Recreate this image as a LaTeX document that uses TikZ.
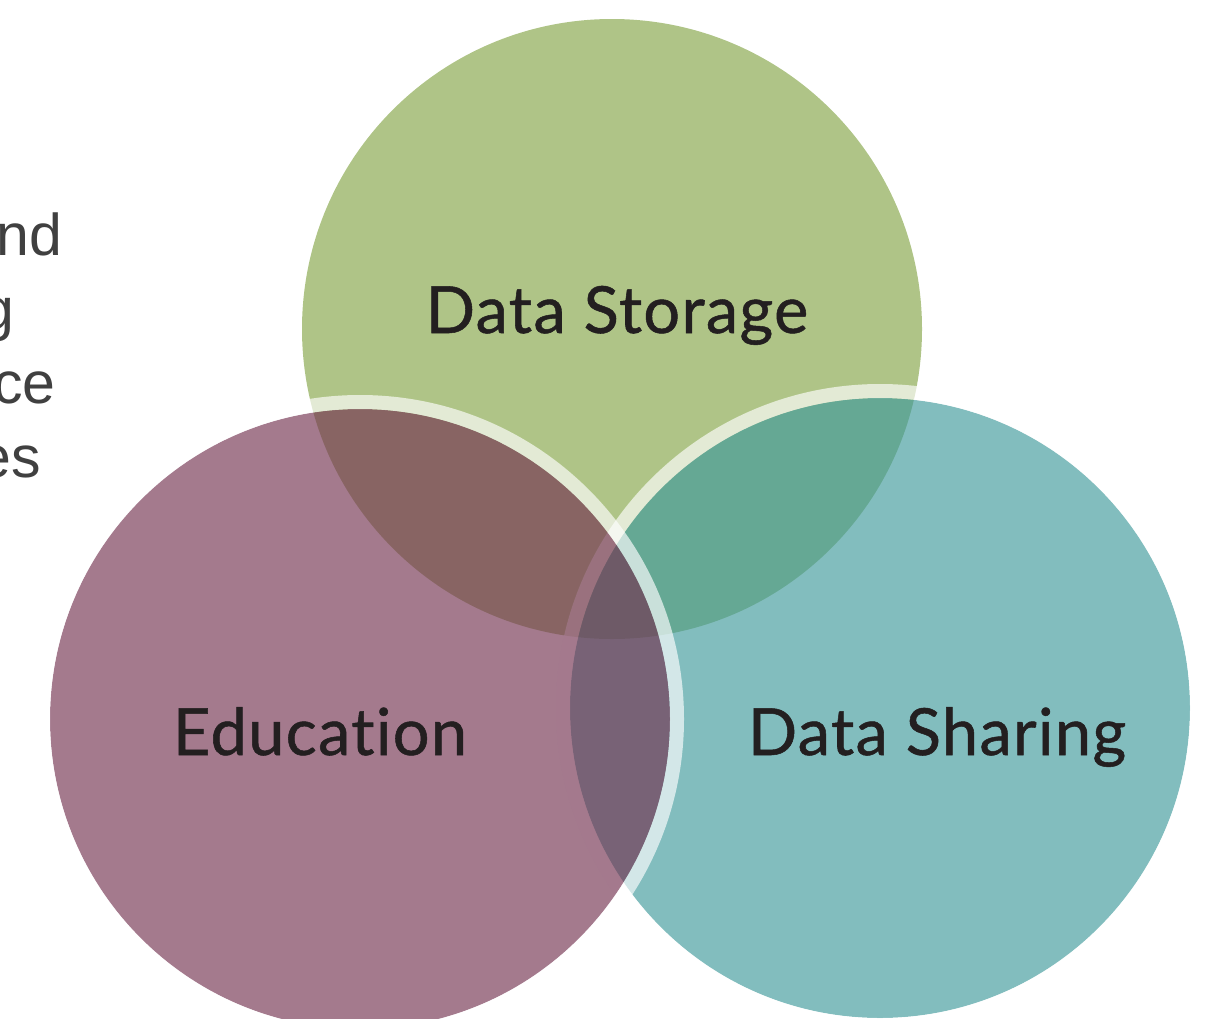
\documentclass[tikz,border=0pt]{standalone}
\usepackage{fontspec}
\setmainfont{Liberation Sans}
\newfontfamily\labelfont[Ligatures=NoCommon, LetterSpace=2, FakeBold=0.8]{Lato}
\definecolor{storagegreen}{RGB}{132,165,71}
\definecolor{educationpurple}{RGB}{115,50,80}
\definecolor{sharingteal}{RGB}{63,153,155}
\definecolor{labelink}{RGB}{35,31,32}
\definecolor{sideink}{RGB}{64,64,64}

\begin{document}
\begin{tikzpicture}[x=0.5pt, y=-0.5pt,
  blob/.style={fill opacity=0.65},
  ring/.style={draw=white, draw opacity=0.65, line width=7pt},
  venn/.style={font=\labelfont\fontsize{32.5}{38}\selectfont, text=labelink, anchor=base},
  side/.style={font=\fontsize{29.5}{36}\selectfont, text=sideink, anchor=base east, inner sep=0pt}]
  \useasboundingbox (0,0) rectangle (1220,1018);
  \clip (0,0) rectangle (1220,1018);
  % Side text
  \node[side] (line1) at (63,255) {nd};
  \node[side] (line2) at (15,329) {g};
  \node[side] (line3) at (56,403) {ce};
  \node[side] (line4) at (41,477) {es};
  % Circles
  \fill[blob, storagegreen] (612,329) circle[radius=310];
  \fill[blob, sharingteal] (880,708) circle[radius=310];
  \draw[ring] (880,708) circle[radius=317];
  \fill[blob, educationpurple] (360,719) circle[radius=310];
  \draw[ring] (360,719) circle[radius=317];
  % Labels
  \node[venn] (storage) at (617,333) {Data Storage};
  \node[venn] (education) at (320,755) {Education};
  \node[venn] (sharing) at (937,755) {Data Sharing};
\end{tikzpicture}
\end{document}
